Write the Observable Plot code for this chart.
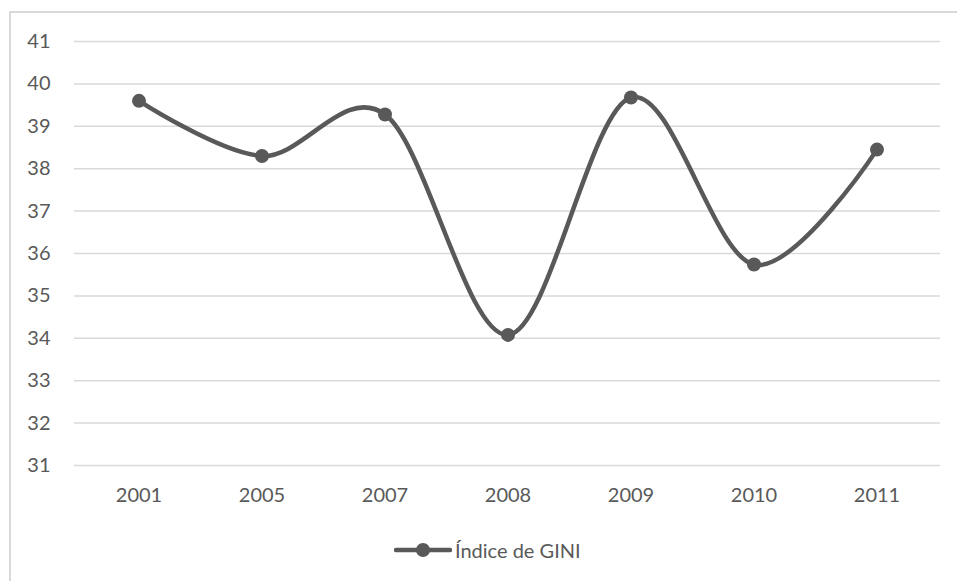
<!DOCTYPE html>
<html>
<head>
<meta charset="utf-8">
<script src="https://cdn.jsdelivr.net/npm/d3@7"></script>
<script src="https://cdn.jsdelivr.net/npm/@observablehq/plot@0.6"></script>
<style>
  html, body { margin: 0; padding: 0; background: #fff; overflow: hidden; }
  body { width: 957px; height: 581px; position: relative; font-family: Lato, "Open Sans", sans-serif; }
  #frame { position: absolute; left: 9px; top: 11px; width: 1000px; height: 700px; border-left: 2px solid #d9d9d9; border-top: 2px solid #d9d9d9; box-sizing: border-box; }
  #chart { position: absolute; left: 0; top: 0; }
  #legend { position: absolute; left: 394px; top: 538px; display: flex; align-items: center; color: #595959; font-size: 20px; white-space: nowrap; }
  #legend svg { margin-right: 3px; }
</style>
</head>
<body>
<div id="frame"></div>
<div id="chart"></div>
<div id="legend"></div>
<script>
const years = ["2001", "2005", "2007", "2008", "2009", "2010", "2011"];
const gini = [39.6, 38.3, 39.28, 34.08, 39.68, 35.74, 38.45];
const yTicks = [31, 32, 33, 34, 35, 36, 37, 38, 39, 40, 41];
const seriesName = "Índice de GINI";

const data = years.map((y, i) => ({year: y, value: gini[i]}));
const color = "#595959";

const plot = Plot.plot({
  width: 957,
  height: 520,
  marginLeft: 74,
  marginRight: 17,
  marginTop: 41,
  marginBottom: 55,
  style: {fontFamily: "Lato, 'Open Sans', sans-serif", fontSize: "20px", color: "#595959", background: "transparent"},
  x: {type: "band", domain: years, padding: 0, label: null},
  y: {domain: [31, 41], label: null},
  marks: [
    Plot.gridY(yTicks, {stroke: "#d9d9d9", strokeOpacity: 1, strokeWidth: 1.5}),
    Plot.axisY(yTicks, {tickSize: 0, tickPadding: 24, label: null, fill: "#595959"}),
    Plot.axisX({tickSize: 0, tickPadding: 22, label: null, fill: "#595959"}),
    Plot.line(data, {x: "year", y: "value", stroke: color, strokeWidth: 4.5, curve: "cardinal", tension: 0}),
    Plot.dot(data, {x: "year", y: "value", r: 7, fill: color, stroke: "none"})
  ]
});
document.getElementById("chart").appendChild(plot);

const legend = document.getElementById("legend");
const ls = d3.create("svg").attr("width", 58).attr("height", 20);
ls.append("line").attr("x1", 2).attr("x2", 56).attr("y1", 10).attr("y2", 10)
  .attr("stroke", color).attr("stroke-width", 4.5).attr("stroke-linecap", "round");
ls.append("circle").attr("cx", 29).attr("cy", 10).attr("r", 7).attr("fill", color);
legend.appendChild(ls.node());
const span = document.createElement("span");
span.textContent = seriesName;
legend.appendChild(span);
</script>
</body>
</html>
